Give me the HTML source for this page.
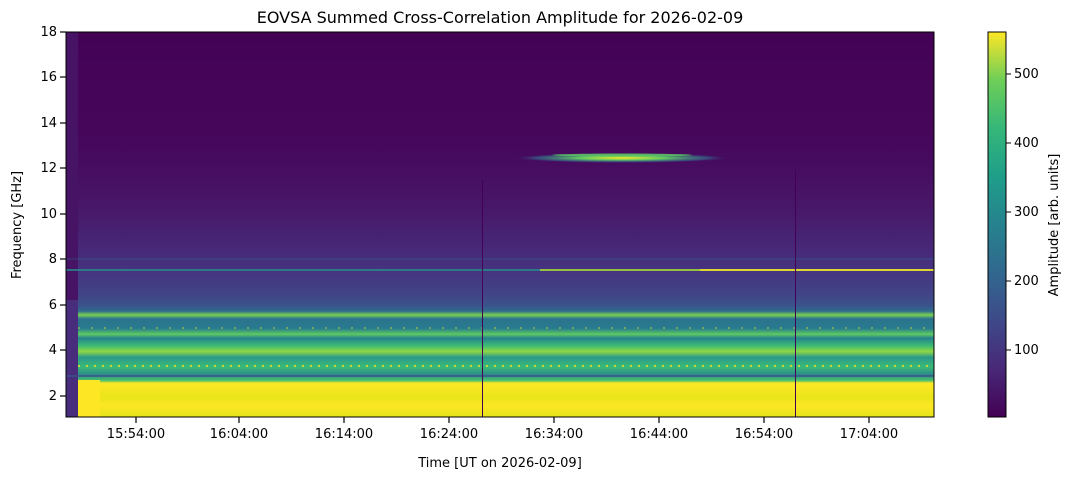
<!DOCTYPE html>
<html><head><style>
body{margin:0;background:#fff;width:1073px;height:479px;overflow:hidden;font-family:"Liberation Sans","DejaVu Sans",sans-serif;}
text{font-family:"DejaVu Sans","Liberation Sans",sans-serif;font-size:13px;fill:#000}
</style></head><body>
<svg width="1073" height="479" xmlns="http://www.w3.org/2000/svg">
<defs>
<linearGradient id="v" x1="0" y1="32" x2="0" y2="417" gradientUnits="userSpaceOnUse">
<stop offset="0" stop-color="#440255"/>
<stop offset="0.3" stop-color="#46085c"/>
<stop offset="0.45" stop-color="#481668"/>
<stop offset="0.55" stop-color="#472676"/>
<stop offset="0.62" stop-color="#46337f"/>
<stop offset="0.68" stop-color="#414487"/>
<stop offset="0.71" stop-color="#3b528b"/>
<stop offset="0.725" stop-color="#2f6b8e"/>
<stop offset="0.735" stop-color="#7ad151"/>
<stop offset="0.745" stop-color="#2c728e"/>
<stop offset="0.77" stop-color="#287c8e"/>
<stop offset="0.785" stop-color="#5ec962"/>
<stop offset="0.795" stop-color="#26828e"/>
<stop offset="0.815" stop-color="#3dbc74"/>
<stop offset="0.83" stop-color="#8fd744"/>
<stop offset="0.845" stop-color="#2a9a8a"/>
<stop offset="0.87" stop-color="#3aba76"/>
<stop offset="0.89" stop-color="#2d8a8c"/>
<stop offset="0.905" stop-color="#48c16e"/>
<stop offset="0.912" stop-color="#fde725"/>
<stop offset="0.95" stop-color="#eae51a"/>
<stop offset="0.97" stop-color="#fde725"/>
<stop offset="1" stop-color="#e4e419"/>
</linearGradient>
<radialGradient id="b" cx="0.5" cy="0.5" r="0.5">
<stop offset="0" stop-color="#fde725"/>
<stop offset="0.4" stop-color="#5ec962"/>
<stop offset="0.8" stop-color="#31688e" stop-opacity="0.6"/>
<stop offset="1" stop-color="#440154" stop-opacity="0"/>
</radialGradient>
<linearGradient id="cb" x1="0" y1="417" x2="0" y2="32" gradientUnits="userSpaceOnUse">
<stop offset="0" stop-color="#440154"/>
<stop offset="0.125" stop-color="#482878"/>
<stop offset="0.25" stop-color="#3e4989"/>
<stop offset="0.375" stop-color="#31688e"/>
<stop offset="0.5" stop-color="#26828e"/>
<stop offset="0.625" stop-color="#1f9e89"/>
<stop offset="0.75" stop-color="#35b779"/>
<stop offset="0.875" stop-color="#6ece58"/>
<stop offset="1" stop-color="#fde725"/>
</linearGradient>
</defs>
<text x="500" y="23" text-anchor="middle" style="font-size:16px">EOVSA Summed Cross-Correlation Amplitude for 2026-02-09</text>
<rect x="66" y="32" width="868" height="385" fill="url(#v)"/>
<rect x="66" y="32" width="12" height="385" fill="#471365"/>
<rect x="66" y="300" width="12" height="117" fill="#472d7b"/>
<rect x="78" y="380" width="22" height="37" fill="#fde725"/>
<line x1="66" y1="270" x2="934" y2="270" stroke="#21918c" stroke-width="1.5"/>
<line x1="540" y1="270" x2="934" y2="270" stroke="#b5de2b" stroke-width="1.5"/>
<line x1="700" y1="270" x2="934" y2="270" stroke="#fde725" stroke-width="1.5"/>
<line x1="66" y1="259" x2="934" y2="259" stroke="#2d708e" stroke-width="1" opacity="0.5"/>
<line x1="78" y1="328" x2="934" y2="328" stroke="#fde725" stroke-width="1" stroke-dasharray="2 11" opacity="0.7"/>
<line x1="78" y1="366" x2="934" y2="366" stroke="#fde725" stroke-width="2" stroke-dasharray="2 6" opacity="0.7"/>
<line x1="66" y1="376" x2="934" y2="376" stroke="#3b528b" stroke-width="1.5"/>
<ellipse cx="622" cy="158" rx="110" ry="5" fill="url(#b)"/>
<ellipse cx="622" cy="155" rx="70" ry="1.5" fill="#5ec962" opacity="0.8"/>
<line x1="482.5" y1="180" x2="482.5" y2="417" stroke="#440154" stroke-width="1"/>
<line x1="795.5" y1="170" x2="795.5" y2="417" stroke="#440154" stroke-width="1"/>
<rect x="66" y="32" width="868" height="385" fill="none" stroke="#000" stroke-width="1"/>
<g stroke="#000" stroke-width="1.2">
<line x1="60" y1="32" x2="66" y2="32"/><line x1="60" y1="77" x2="66" y2="77"/><line x1="60" y1="123" x2="66" y2="123"/><line x1="60" y1="168" x2="66" y2="168"/><line x1="60" y1="214" x2="66" y2="214"/><line x1="60" y1="259" x2="66" y2="259"/><line x1="60" y1="305" x2="66" y2="305"/><line x1="60" y1="350" x2="66" y2="350"/><line x1="60" y1="396" x2="66" y2="396"/>
<line x1="136" y1="417" x2="136" y2="423"/><line x1="239" y1="417" x2="239" y2="423"/><line x1="344" y1="417" x2="344" y2="423"/><line x1="449" y1="417" x2="449" y2="423"/><line x1="554" y1="417" x2="554" y2="423"/><line x1="659" y1="417" x2="659" y2="423"/><line x1="764" y1="417" x2="764" y2="423"/><line x1="869" y1="417" x2="869" y2="423"/>
</g>
<g text-anchor="end">
<text x="57" y="36">18</text><text x="57" y="81">16</text><text x="57" y="127">14</text><text x="57" y="172">12</text><text x="57" y="218">10</text><text x="57" y="263">8</text><text x="57" y="309">6</text><text x="57" y="354">4</text><text x="57" y="400">2</text>
</g>
<g text-anchor="middle">
<text x="136" y="438">15:54:00</text><text x="239" y="438">16:04:00</text><text x="344" y="438">16:14:00</text><text x="449" y="438">16:24:00</text><text x="554" y="438">16:34:00</text><text x="659" y="438">16:44:00</text><text x="764" y="438">16:54:00</text><text x="869" y="438">17:04:00</text>
<text x="500" y="467">Time [UT on 2026-02-09]</text>
</g>
<text transform="translate(21,225) rotate(-90)" text-anchor="middle">Frequency [GHz]</text>
<rect x="988" y="32" width="18" height="385" fill="url(#cb)" stroke="#000" stroke-width="1"/>
<g stroke="#000"><line x1="1006" y1="74" x2="1011" y2="74"/><line x1="1006" y1="143" x2="1011" y2="143"/><line x1="1006" y1="212" x2="1011" y2="212"/><line x1="1006" y1="281" x2="1011" y2="281"/><line x1="1006" y1="350" x2="1011" y2="350"/></g>
<text x="1014" y="78">500</text><text x="1014" y="147">400</text><text x="1014" y="216">300</text><text x="1014" y="285">200</text><text x="1014" y="354">100</text>
<text transform="translate(1058,225) rotate(-90)" text-anchor="middle">Amplitude [arb. units]</text>
</svg>
</body></html>
